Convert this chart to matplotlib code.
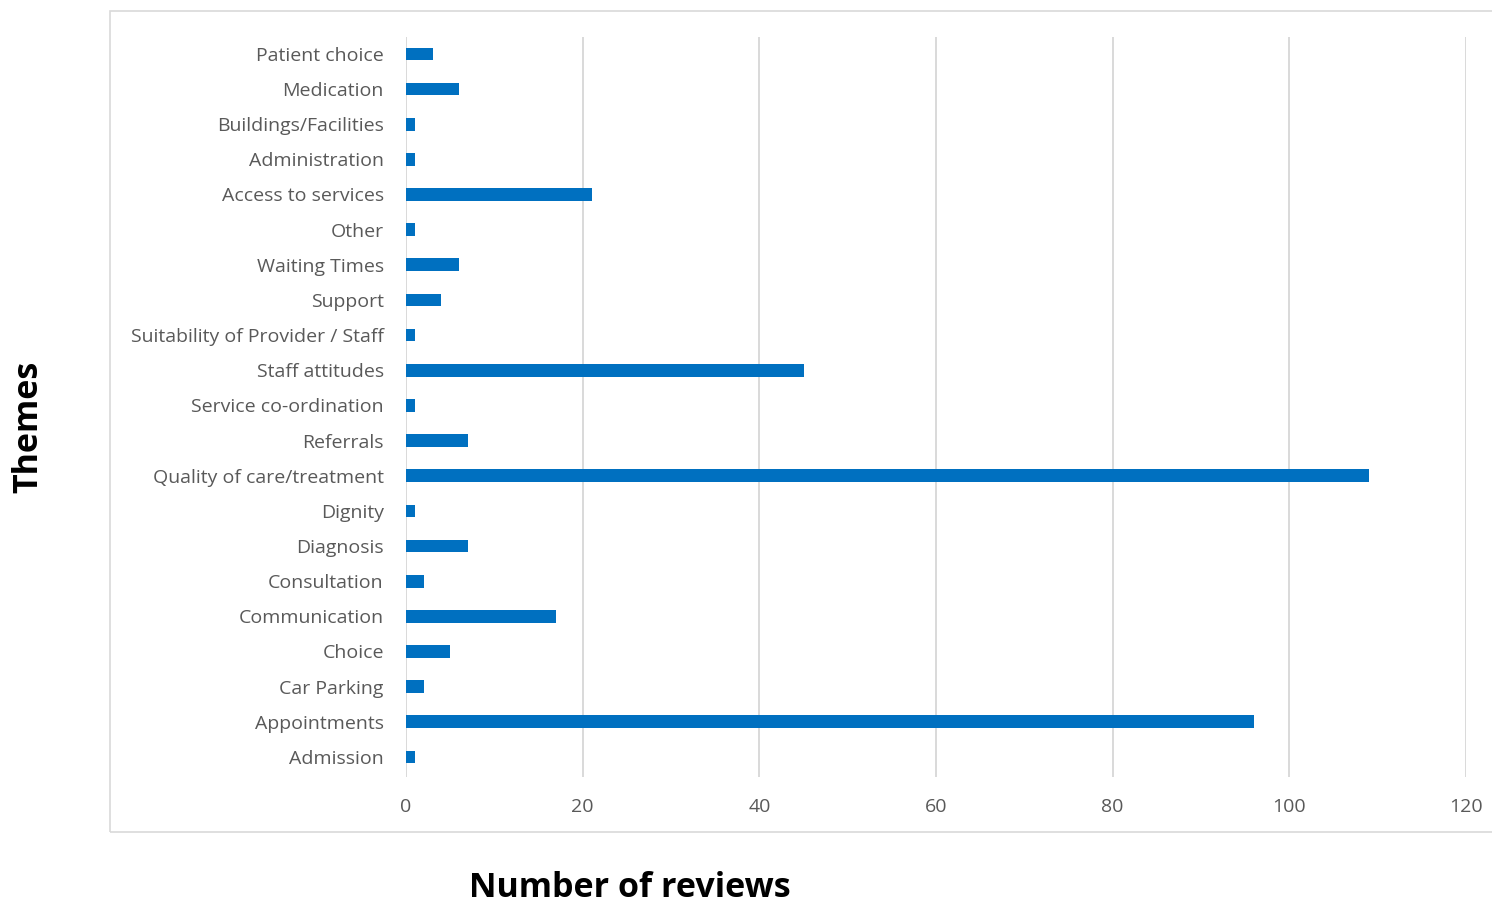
import matplotlib
matplotlib.use("Agg")
import matplotlib.pyplot as plt
from matplotlib.patches import Rectangle

# Themes listed top to bottom as displayed
themes = [
    "Patient choice", "Medication", "Buildings/Facilities", "Administration",
    "Access to services", "Other", "Waiting Times", "Support",
    "Suitability of Provider / Staff", "Staff attitudes", "Service co-ordination",
    "Referrals", "Quality of care/treatment", "Dignity", "Diagnosis",
    "Consultation", "Communication", "Choice", "Car Parking", "Appointments",
    "Admission",
]
reviews = [3, 6, 1, 1, 21, 1, 6, 4, 1, 45, 1, 7, 109, 1, 7, 2, 17, 5, 2, 96, 1]
x_ticks = [0, 20, 40, 60, 80, 100, 120]

plt.rcParams['font.family'] = ['Open Sans', 'DejaVu Sans']

W, H = 1492, 905
fig = plt.figure(figsize=(W / 100, H / 100), dpi=100)

# chart-area border
fig.patches.append(Rectangle((110 / W, 1 - 832 / H), 1.0, (832 - 11) / H,
                             transform=fig.transFigure, fill=False,
                             edgecolor='#d9d9d9', linewidth=1.2, zorder=0))

ax = fig.add_axes([406 / W, 1 - 777 / H, (1466 - 406) / W, (777 - 37) / H])

pos = list(range(len(themes)))
ax.barh(pos, reviews, height=0.36, color='#0070C0', zorder=3)
ax.set_yticks(pos)
ax.set_yticklabels(themes)
ax.set_ylim(len(themes) - 0.43, -0.48)

ax.set_xlim(0, 120)
ax.set_xticks(x_ticks)
ax.grid(axis='x', color='#d9d9d9', linewidth=1.4, zorder=0)
ax.grid(axis='y', visible=False)
for s in ax.spines.values():
    s.set_visible(False)
ax.tick_params(axis='both', length=0, labelsize=14, labelcolor='#595959')
ax.tick_params(axis='y', pad=16)
ax.tick_params(axis='x', pad=15)

fig.text(28 / W, 1 - 427 / H, "Themes", rotation=90, ha='center', va='center',
         fontsize=24.5, fontweight='bold', color='black')
fig.text(630 / W, 1 - 888 / H, "Number of reviews", ha='center', va='center',
         fontsize=24.5, fontweight='bold', color='black')

fig.savefig("out.png", dpi=100)
